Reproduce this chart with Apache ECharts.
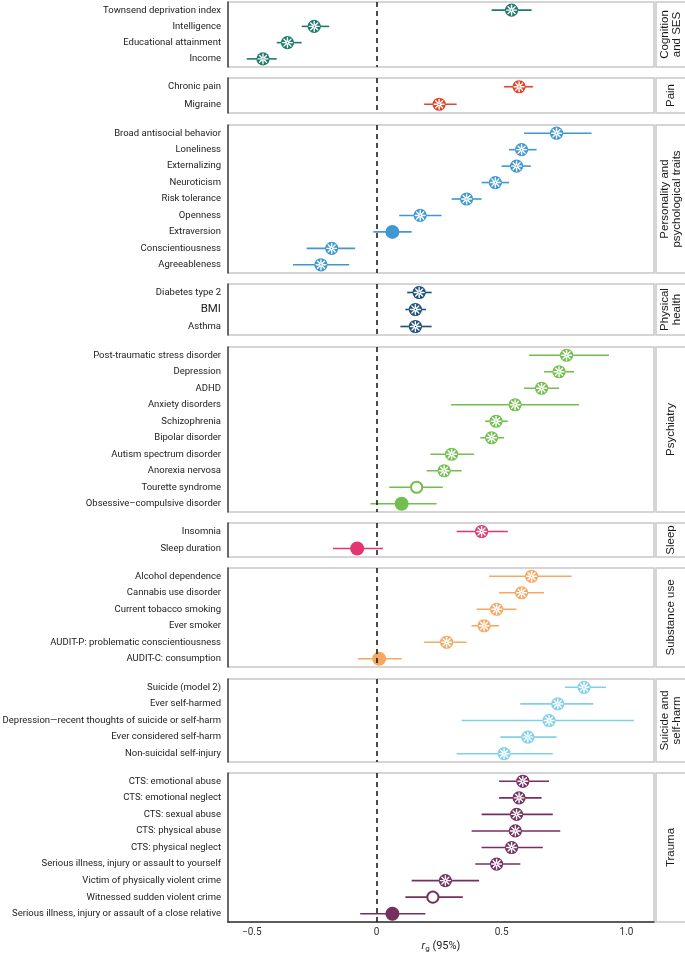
<!DOCTYPE html>
<html><head><meta charset="utf-8">
<script src="https://cdn.jsdelivr.net/npm/echarts@6/dist/echarts.min.js"></script>
<style>html,body{margin:0;padding:0;background:#fff}#c{width:685px;height:953px}</style>
</head><body><div id="c"></div>
<script>
// ---------- DATA ----------
const panelNames = ['Cognition\nand SES','Pain','Personality and\npsychological traits','Physical\nhealth','Psychiatry','Sleep','Substance use','Suicide and\nself-harm','Trauma'];

const cogCats = ['Townsend deprivation index','Intelligence','Educational attainment','Income'];
const cogEst  = [0.54,-0.25,-0.357,-0.455];
const cogLo   = [0.46,-0.30,-0.40,-0.52];
const cogHi   = [0.62,-0.19,-0.30,-0.40];
const cogSig  = ['a','a','a','a'];

const painCats = ['Chronic pain','Migraine'];
const painEst  = [0.57,0.25];
const painLo   = [0.51,0.19];
const painHi   = [0.625,0.32];
const painSig  = ['a','a'];

const persCats = ['Broad antisocial behavior','Loneliness','Externalizing','Neuroticism','Risk tolerance','Openness','Extraversion','Conscientiousness','Agreeableness'];
const persEst  = [0.72,0.58,0.56,0.475,0.36,0.174,0.063,-0.18,-0.223];
const persLo   = [0.59,0.53,0.50,0.42,0.30,0.09,-0.013,-0.28,-0.335];
const persHi   = [0.86,0.64,0.617,0.53,0.42,0.26,0.14,-0.086,-0.11];
const persSig  = ['a','a','a','a','a','a','f','a','a'];

const physCats = ['Diabetes type 2','BMI','Asthma'];
const physEst  = [0.17,0.155,0.155];
const physLo   = [0.122,0.115,0.095];
const physHi   = [0.22,0.197,0.22];
const physSig  = ['a','a','a'];

const psyCats = ['Post-traumatic stress disorder','Depression','ADHD','Anxiety disorders','Schizophrenia','Bipolar disorder','Autism spectrum disorder','Anorexia nervosa','Tourette syndrome','Obsessive\u2013compulsive disorder'];
const psyEst  = [0.76,0.73,0.66,0.554,0.478,0.46,0.30,0.27,0.16,0.10];
const psyLo   = [0.61,0.67,0.59,0.298,0.434,0.415,0.215,0.20,0.05,-0.025];
const psyHi   = [0.93,0.79,0.73,0.81,0.525,0.51,0.39,0.34,0.265,0.24];
const psySig  = ['a','a','a','a','a','a','a','a','o','f'];

const sleepCats = ['Insomnia','Sleep duration'];
const sleepEst  = [0.42,-0.078];
const sleepLo   = [0.32,-0.175];
const sleepHi   = [0.525,0.025];
const sleepSig  = ['a','f'];

const subCats = ['Alcohol dependence','Cannabis use disorder','Current tobacco smoking','Ever smoker','AUDIT-P: problematic conscientiousness','AUDIT-C: consumption'];
const subEst  = [0.62,0.58,0.48,0.43,0.28,0.01];
const subLo   = [0.45,0.49,0.40,0.38,0.19,-0.075];
const subHi   = [0.78,0.67,0.56,0.49,0.36,0.10];
const subSig  = ['a','a','a','a','a','f'];

const suiCats = ['Suicide (model 2)','Ever self-harmed','Depression\u2014recent thoughts of suicide or self-harm','Ever considered self-harm','Non-suicidal self-injury'];
const suiEst  = [0.83,0.725,0.69,0.605,0.51];
const suiLo   = [0.754,0.575,0.34,0.495,0.32];
const suiHi   = [0.918,0.867,1.03,0.72,0.705];
const suiSig  = ['a','a','a','a','a'];

const trCats = ['CTS: emotional abuse','CTS: emotional neglect','CTS: sexual abuse','CTS: physical abuse','CTS: physical neglect','Serious illness, injury or assault to yourself','Victim of physically violent crime','Witnessed sudden violent crime','Serious illness, injury or assault of a close relative'];
const trEst  = [0.585,0.57,0.56,0.555,0.54,0.48,0.275,0.225,0.063];
const trLo   = [0.49,0.49,0.42,0.38,0.42,0.395,0.14,0.115,-0.066];
const trHi   = [0.69,0.66,0.705,0.735,0.665,0.575,0.41,0.345,0.195];
const trSig  = ['a','a','a','a','a','a','a','o','f'];

const xTicks = [-0.5,0,0.5,1.0];
const xTickLabels = ['\u22120.5','0','0.5','1.0'];

// ---------- STYLE / LAYOUT ----------
const panelColors = ['#1f7a6c','#e0452a','#3f98d2','#1d4f7c','#72bf4f','#e3356f','#f6a863','#80d0ea','#75305f'];
const panelBox = [[2,65],[78,35],[125,148],[284,51],[347,165],[523,34],[568,99],[679,83],[773,149]];
const panels = [
  [cogCats,cogEst,cogLo,cogHi,cogSig],
  [painCats,painEst,painLo,painHi,painSig],
  [persCats,persEst,persLo,persHi,persSig],
  [physCats,physEst,physLo,physHi,physSig],
  [psyCats,psyEst,psyLo,psyHi,psySig],
  [sleepCats,sleepEst,sleepLo,sleepHi,sleepSig],
  [subCats,subEst,subLo,subHi,subSig],
  [suiCats,suiEst,suiLo,suiHi,suiSig],
  [trCats,trEst,trLo,trHi,trSig]
];
const XMIN=-0.595, XMAX=1.11;
const LEFT=228, RIGHT=31;
const sigCode = {f:0,o:1,a:2};
const labelFont = 'Roboto, "Noto Sans", sans-serif';

function renderItem(params, api){
  const idx = api.value(0);
  const est = api.value(1), lo = api.value(2), hi = api.value(3), kind = api.value(4);
  const p = api.coord([est, idx]);
  const pl = api.coord([lo, idx]);
  const ph = api.coord([hi, idx]);
  const color = api.visual('color');
  const ch = [{type:'line', shape:{x1:pl[0],y1:p[1],x2:ph[0],y2:p[1]}, style:{stroke:color,lineWidth:1.6}}];
  if (kind === 0){
    ch.push({type:'circle', shape:{cx:p[0],cy:p[1],r:7}, style:{fill:color}});
  } else if (kind === 1){
    ch.push({type:'circle', shape:{cx:p[0],cy:p[1],r:5.6}, style:{fill:'#fff',stroke:color,lineWidth:2}});
  } else {
    ch.push({type:'circle', shape:{cx:p[0],cy:p[1],r:6.6}, style:{fill:color}});
    for (let k=0;k<8;k++){
      const a = k*Math.PI/4;
      ch.push({type:'line', shape:{x1:p[0]+1.3*Math.cos(a),y1:p[1]+1.3*Math.sin(a),x2:p[0]+4.9*Math.cos(a),y2:p[1]+4.9*Math.sin(a)}, style:{stroke:'#fff',lineWidth:1.4,lineCap:'round'}});
    }
  }
  return {type:'group', children:ch};
}

const grids=[], xAxes=[], yAxes=[], series=[], graphics=[];
panels.forEach((pn,i)=>{
  const [cats,est,lo,hi,sig] = pn;
  const [top,h] = panelBox[i];
  const last = i === panels.length-1;
  grids.push({left:LEFT, right:RIGHT, top:top, height:h, show:true, borderColor:'#c8c8c8', borderWidth:1.5, backgroundColor:'#fff', containLabel:false, outerBoundsMode:'none'});
  xAxes.push({
    type:'value', gridIndex:i, min:XMIN, max:XMAX, show:last,
    splitLine:{show:false},
    axisLine:{show:true, onZero:false, lineStyle:{color:'#333', width:1.5}},
    axisTick:{show:false},
    axisLabel:{show:last, customValues:xTicks, color:'#333', fontSize:10, fontFamily:labelFont, margin:5,
      formatter:(v)=>{const j=xTicks.findIndex(t=>Math.abs(t-v)<1e-9); return j>=0?xTickLabels[j]:'';}},
    name: last ? '{it|r}{sub|g}{n| (95%)}' : '',
    nameLocation:'middle', nameGap:17,
    nameTextStyle:{rich:{
      it:{fontStyle:'italic', fontSize:11, lineHeight:14, color:'#222', fontFamily:labelFont},
      sub:{fontSize:8, lineHeight:8, verticalAlign:'bottom', color:'#222', fontFamily:labelFont},
      n:{fontSize:11, lineHeight:14, color:'#222', fontFamily:labelFont}
    }}
  });
  yAxes.push({
    type:'category', gridIndex:i, data:cats, inverse:true,
    axisLine:{show:true, onZero:false, lineStyle:{color:'#444', width:1.5}},
    axisTick:{show:false},
    splitLine:{show:false},
    axisLabel:{color:'#222', fontSize:9.5, fontFamily:labelFont, margin:7, interval:0,
      formatter:(v)=> v==='BMI' ? '{b|BMI}' : v,
      rich:{b:{fontSize:11.5, color:'#222', fontFamily:labelFont}}}
  });
  const data = cats.map((c,k)=>[k, est[k], lo[k], hi[k], sigCode[sig[k]]]);
  series.push({
    type:'custom', xAxisIndex:i, yAxisIndex:i, renderItem:renderItem,
    dimensions:['cat','est','lo','hi','kind'],
    encode:{y:0, x:[1,2,3]},
    itemStyle:{color:panelColors[i]},
    data:data, z:3,
    markLine:{silent:true, symbol:'none', label:{show:false}, animation:false,
      lineStyle:{color:'#111', type:[5,4], width:1.5},
      data:[{xAxis:0}]}
  });
  graphics.push({type:'rect', shape:{x:656, y:top, width:40, height:h}, style:{fill:'#fff', stroke:'#c8c8c8', lineWidth:1.5}, silent:true});
  graphics.push({type:'text', x:671, y:top+h/2, rotation:Math.PI/2,
    style:{text:panelNames[i], fill:'#1a1a1a', font:'11.5px "Liberation Sans", Arial, sans-serif', align:'center', verticalAlign:'middle', lineHeight:11.5}, silent:true});
});

const chart = echarts.init(document.getElementById('c'), null, {renderer:'canvas'});
chart.setOption({
  animation:false,
  backgroundColor:'#fff',
  grid:grids, xAxis:xAxes, yAxis:yAxes, series:series, graphic:graphics
});
</script></body></html>
